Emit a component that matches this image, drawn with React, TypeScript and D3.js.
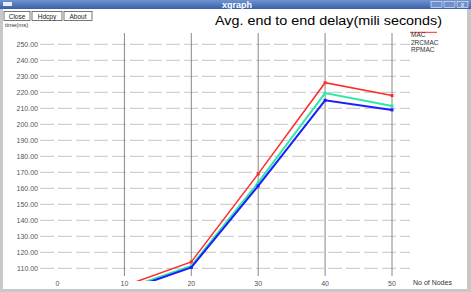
import React from "react";
import * as d3 from "d3";

const nodes = [10, 20, 30, 40, 50];
const macDelay = [99, 114, 169, 226, 218];
const rcmacDelay = [97, 111.5, 163.5, 219.5, 211.5];
const rpmacDelay = [96, 110.5, 161.5, 215, 209];
const seriesNames = ["MAC", "2RCMAC", "RPMAC"];
const seriesColors = ["#ff2a2a", "#2ee8a8", "#1c1cff"];
const yTicks = [110, 120, 130, 140, 150, 160, 170, 180, 190, 200, 210, 220, 230, 240, 250];
const xTicks = [0, 10, 20, 30, 40, 50];
const buttons = ["Close", "Hdcpy", "About"];

export default function App() {
  const W = 471, H = 292;
  const x = d3.scaleLinear().domain([0, 50]).range([57.5, 392]);
  const y = d3.scaleLinear().domain([110, 250]).range([268.3, 44.3]);
  const line = d3.line<number>().x((_, i) => x(nodes[i])).y((d) => y(d));
  const series = [macDelay, rcmacDelay, rpmacDelay];
  const font = "'Liberation Sans', Arial, sans-serif";
  const btnX = [4, 32, 64];
  const btnW = [26, 30, 28];

  return (
    <div style={{ position: "absolute", left: 0, top: 0 }}>
      <svg width={W} height={H} style={{ display: "block" }} fontFamily={font}>
        <defs>
          <linearGradient id="tb" x1="0" y1="0" x2="0" y2="1">
            <stop offset="0" stopColor="#6f93d0" />
            <stop offset="1" stopColor="#3a5fa8" />
          </linearGradient>
          <clipPath id="plot">
            <rect x={40} y={30} width={372} height={251} />
          </clipPath>
        </defs>
        <rect x={0} y={0} width={W} height={H} fill="#c8c8c8" />
        <rect x={3} y={9} width={464} height={280} fill="#ffffff" />
        <rect x={0} y={0} width={W} height={9} fill="url(#tb)" />
        <rect x={3} y={2} width={9} height={4} fill="#e8eef8" />
        <text x={237} y={7.5} fill="#ffffff" fontSize={9} fontWeight="bold" textAnchor="middle">xgraph</text>
        {[431, 444, 457].map((bx, i) => (
          <rect key={i} x={bx} y={1.5} width={11} height={6} fill="#6f90cc" stroke="#dfe8f6" strokeWidth={0.7} />
        ))}
        <text x={462.5} y={7} fill="#fff" fontSize={7} textAnchor="middle">x</text>

        {buttons.map((b, i) => (
          <g key={b}>
            <rect x={btnX[i]} y={11.5} width={btnW[i]} height={9} fill="#fff" stroke="#555" strokeWidth={0.8} />
            <text x={btnX[i] + btnW[i] / 2} y={18.5} fontSize={6.5} textAnchor="middle" fill="#222">{b}</text>
          </g>
        ))}
        <text x={5} y={27} fontSize={6} fill="#333">time(ms)</text>
        <text x={215} y={24.5} fontSize={12.5} fill="#000" textLength={227} lengthAdjust="spacingAndGlyphs">
          Avg. end to end delay(mili seconds)
        </text>

        {yTicks.map((t) => (
          <g key={t}>
            <line x1={40} x2={410} y1={y(t)} y2={y(t)} stroke="#b8b8b8" strokeWidth={0.8} strokeDasharray="14,4" />
            <text x={38} y={y(t) + 2.5} fontSize={7} fill="#555" textAnchor="end">{t.toFixed(2)}</text>
          </g>
        ))}
        {xTicks.filter((t) => t > 0).map((t) => (
          <line key={t} x1={x(t)} x2={x(t)} y1={33} y2={276} stroke="#7a7a7a" strokeWidth={0.9} />
        ))}
        {xTicks.map((t) => (
          <text key={t} x={x(t)} y={286} fontSize={7} fill="#555" textAnchor="middle">{t}</text>
        ))}
        <text x={413} y={285} fontSize={7} fill="#333">No of Nodes</text>

        <g clipPath="url(#plot)">
          {series.map((s, si) => (
            <g key={si}>
              <path d={line(s) || ""} fill="none" stroke={seriesColors[si]} strokeWidth={si === 0 ? 1.5 : 2} />
              {s.map((v, i) => (
                <rect key={i} x={x(nodes[i]) - 1.5} y={y(v) - 1.5} width={3} height={3} fill={seriesColors[si]} />
              ))}
            </g>
          ))}
        </g>

        <line x1={410} x2={437} y1={32.3} y2={32.3} stroke={seriesColors[0]} strokeWidth={1} />
        {seriesNames.map((n, i) => (
          <text key={n} x={411} y={37 + i * 7.7} fontSize={6.5} fill="#333">{n}</text>
        ))}
      </svg>
    </div>
  );
}
